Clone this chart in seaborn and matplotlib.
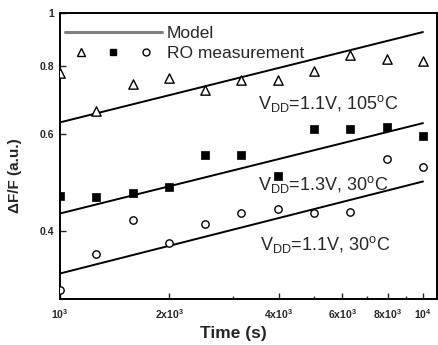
import numpy as np
import pandas as pd
import matplotlib
matplotlib.use("Agg")
import matplotlib.pyplot as plt
import seaborn as sns
from matplotlib.lines import Line2D
from matplotlib.legend_handler import HandlerTuple
from matplotlib.ticker import FixedLocator, FixedFormatter, NullLocator

# ---- data ----
time_s = [1000, 1259, 1585, 1995, 2512, 3162, 3981, 5012, 6310, 7943, 10000]
ro_11v_105c = [0.776, 0.661, 0.741, 0.760, 0.723, 0.754, 0.754, 0.783, 0.838, 0.824, 0.817]
ro_13v_30c = [0.462, 0.460, 0.468, 0.480, 0.549, 0.549, 0.503, 0.613, 0.613, 0.618, 0.595]
ro_11v_30c = [0.311, 0.363, 0.418, 0.379, 0.412, 0.430, 0.439, 0.430, 0.432, 0.540, 0.522]

model_time = [1000, 10000]
model_11v_105c = [0.631, 0.923]
model_13v_30c = [0.430, 0.629]
model_11v_30c = [0.334, 0.492]

x_ticks = [1000, 2000, 4000, 6000, 8000, 10000]
x_ticklabels = ["$10^3$", "2x$10^3$", "4x$10^3$", "6x$10^3$", "8x$10^3$", "$10^4$"]
x_minor = [3000, 5000, 7000, 9000]
y_ticks = [0.4, 0.6, 0.8, 1.0]
y_ticklabels = ["0.4", "0.6", "0.8", "1"]

labels_cond = [r"V$_{\rm DD}$=1.1V, 105$^{\rm o}$C",
               r"V$_{\rm DD}$=1.3V, 30$^{\rm o}$C",
               r"V$_{\rm DD}$=1.1V, 30$^{\rm o}$C"]

sns.set_style("ticks")
plt.rcParams["font.family"] = ["Liberation Sans", "DejaVu Sans"]
plt.rcParams["mathtext.fontset"] = "custom"
plt.rcParams["mathtext.rm"] = "Liberation Sans"
plt.rcParams["mathtext.default"] = "regular"

fig = plt.figure(figsize=(4.38, 3.45), dpi=100)
ax = fig.add_axes([60 / 438, 46 / 345, 377 / 438, 286 / 345])

df = pd.DataFrame({"t": time_s, "a": ro_11v_105c, "b": ro_13v_30c, "c": ro_11v_30c})
mdf = pd.DataFrame({"t": model_time, "a": model_11v_105c, "b": model_13v_30c, "c": model_11v_30c})

for col in ["a", "b", "c"]:
    sns.lineplot(data=mdf, x="t", y=col, ax=ax, color="black", linewidth=1.4, legend=False)

sns.scatterplot(data=df, x="t", y="a", ax=ax, marker="^", s=45, facecolor="white",
                edgecolor="black", linewidth=1.0, legend=False, zorder=3)
sns.scatterplot(data=df, x="t", y="b", ax=ax, marker="s", s=26, color="black",
                edgecolor="black", linewidth=0.5, legend=False, zorder=3)
sns.scatterplot(data=df, x="t", y="c", ax=ax, marker="o", s=28, facecolor="white",
                edgecolor="black", linewidth=1.0, legend=False, zorder=3)

ax.set_xscale("log")
ax.set_yscale("log")
ax.set_xlim(1000, 10930)
ax.set_ylim(0.3, 1.0)

ax.xaxis.set_major_locator(FixedLocator(x_ticks))
ax.xaxis.set_major_formatter(FixedFormatter(x_ticklabels))
ax.xaxis.set_minor_locator(FixedLocator(x_minor))
ax.yaxis.set_major_locator(FixedLocator(y_ticks))
ax.yaxis.set_major_formatter(FixedFormatter(y_ticklabels))
ax.yaxis.set_minor_locator(NullLocator())

ax.tick_params(axis="both", which="major", direction="in", length=4, width=1.0,
               labelsize=7.5)
ax.tick_params(axis="x", which="major", pad=6)
ax.tick_params(axis="y", which="major", pad=4)
ax.tick_params(axis="x", which="minor", direction="in", length=2.5, width=1.0)
for lab in ax.get_xticklabels() + ax.get_yticklabels():
    lab.set_fontweight("bold")

for sp in ax.spines.values():
    sp.set_visible(True)
    sp.set_linewidth(1.4)
    sp.set_color("black")

ax.set_xlabel("Time (s)", fontsize=12.5, fontweight="bold")
ax.set_ylabel("ΔF/F (a.u.)", fontsize=11, fontweight="bold")
ax.xaxis.set_label_coords(0.459, -0.095)
ax.yaxis.set_label_coords(-0.10, 0.43)

ax.text(0.525, 0.685, labels_cond[0], transform=ax.transAxes, ha="left", va="center", fontsize=13)
ax.text(0.525, 0.399, labels_cond[1], transform=ax.transAxes, ha="left", va="center", fontsize=13)
ax.text(0.531, 0.189, labels_cond[2], transform=ax.transAxes, ha="left", va="center", fontsize=13)

h_model = Line2D([], [], color="#808080", linewidth=2.2)
h_tri = Line2D([], [], linestyle="none", marker="^", markersize=6.0, markerfacecolor="white",
               markeredgecolor="black", markeredgewidth=1.0)
h_sq = Line2D([], [], linestyle="none", marker="s", markersize=5, color="black")
h_ci = Line2D([], [], linestyle="none", marker="o", markersize=5.0, markerfacecolor="white",
              markeredgecolor="black", markeredgewidth=1.0)
ax.legend([h_model, (h_tri, h_sq, h_ci)], ["Model", "RO measurement"],
          handler_map={tuple: HandlerTuple(ndivide=None, pad=0.0)},
          loc="upper left", bbox_to_anchor=(0.012, 0.955), frameon=False,
          fontsize=12.5, handlelength=5.6, handletextpad=0.3, labelspacing=0.28,
          borderpad=0, borderaxespad=0)

fig.savefig("out.png", dpi=100)
